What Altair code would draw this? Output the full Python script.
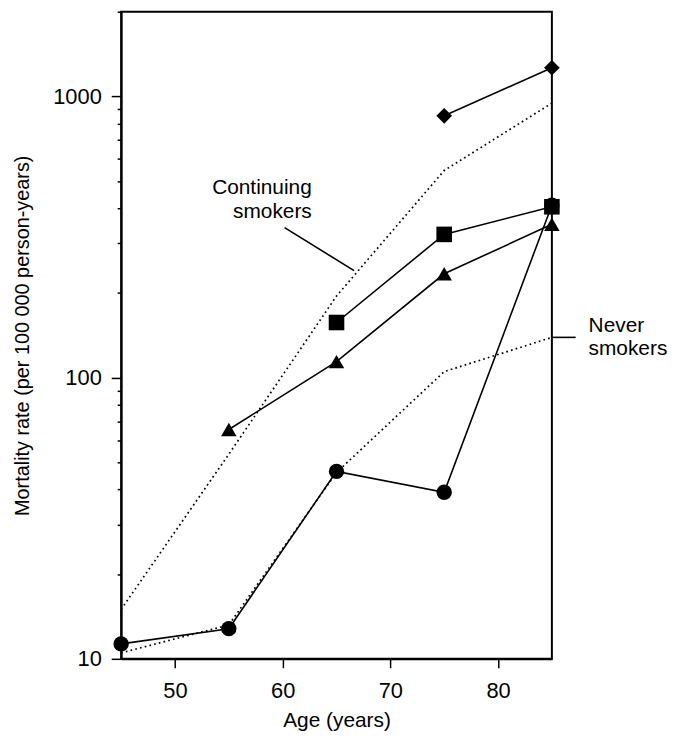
import altair as alt
import pandas as pd

FONT = "Liberation Sans"

ages = [45, 55, 65, 75, 85]

# Dotted reference curves
continuing_rate = [15.0, 53.4, 195, 545, 946]
never_rate = [10.5, 13.2, 46, 105, 139]

# Marked series
circle_age = [45, 55, 65, 75, 85]
circle_rate = [11.3, 12.8, 46.4, 39.1, 410]
triangle_age = [55, 65, 75, 85]
triangle_rate = [65.4, 114, 234, 351]
square_age = [65, 75, 85]
square_rate = [157, 323, 405]
diamond_age = [75, 85]
diamond_rate = [853, 1264]

# Annotation leader lines
leader_group = ["cont", "cont", "never", "never"]
leader_age = [60.18, 66.63, 85, 87.21]
leader_rate = [341.6, 240, 139, 139]

# Annotation texts
cont_text = ["Continuing", "smokers"]
cont_text_age = [62.7, 62.7]
cont_text_rate = [450.2, 370.4]
never_text = ["Never", "smokers"]
never_text_age = [88.41, 88.41]
never_text_rate = [145.2, 120.5]

y_major = [10, 100, 1000]
y_minor = [20, 30, 40, 50, 60, 70, 80, 90,
           200, 300, 400, 500, 600, 700, 800, 900, 2000]
x_ticks = [50, 60, 70, 80]

dotted_df = pd.DataFrame({
    "age": ages + ages,
    "rate": continuing_rate + never_rate,
    "group": ["Continuing smokers"] * 5 + ["Never smokers"] * 5,
})

series_df = pd.DataFrame({
    "age": circle_age + triangle_age + square_age + diamond_age,
    "rate": circle_rate + triangle_rate + square_rate + diamond_rate,
    "series": ["circle"] * len(circle_age) + ["triangle"] * len(triangle_age)
    + ["square"] * len(square_age) + ["diamond"] * len(diamond_age),
})

leader_df = pd.DataFrame({"age": leader_age, "rate": leader_rate, "group": leader_group})
cont_df = pd.DataFrame({"age": cont_text_age, "rate": cont_text_rate, "text": cont_text})
never_df = pd.DataFrame({"age": never_text_age, "rate": never_text_rate, "text": never_text})

xscale = alt.Scale(domain=[45, 85], nice=False, zero=False)
yscale = alt.Scale(type="log", domain=[10, 2000], nice=False)

xaxis = alt.Axis(
    values=x_ticks, tickSize=9, tickWidth=1.5, tickColor="black",
    labelPadding=13, labelFontSize=22, labelFont=FONT, labelColor="black",
    title="Age (years)", titleFontSize=21, titleFont=FONT, titleFontWeight="normal",
    titleColor="black", titlePadding=8, grid=False, domainColor="black", domainWidth=2,
)

major_axis = alt.Axis(
    values=y_major, tickSize=10, tickWidth=1.5, tickColor="black",
    labelPadding=10, labelFontSize=22, labelFont=FONT, labelColor="black", format="d",
    title="Mortality rate (per 100 000 person-years)", titleFontSize=20, titleFont=FONT,
    titleFontWeight="normal", titleColor="black", titlePadding=20,
    grid=False, domainColor="black", domainWidth=2, orient="left",
)

minor_axis = alt.Axis(
    values=y_minor, tickSize=4, tickWidth=1.5, tickColor="black",
    labels=False, title=None, domain=False, grid=False, orient="left",
)

X = alt.X("age:Q", scale=xscale, axis=xaxis)

dotted = alt.Chart(dotted_df).mark_line(
    color="black", strokeWidth=1.7, strokeDash=[1.7, 3.2]
).encode(
    x=X,
    y=alt.Y("rate:Q", scale=yscale, axis=major_axis),
    detail="group:N",
)

solid = alt.Chart(series_df).mark_line(color="black", strokeWidth=1.6).encode(
    x=X,
    y=alt.Y("rate:Q", scale=yscale, axis=minor_axis),
    detail="series:N",
)

points = alt.Chart(series_df).mark_point(filled=True, color="black", opacity=1).encode(
    x=X,
    y=alt.Y("rate:Q", scale=yscale, axis=None),
    shape=alt.Shape("series:N", scale=alt.Scale(
        domain=["circle", "triangle", "square", "diamond"],
        range=["circle", "triangle-up", "square", "diamond"]), legend=None),
    size=alt.Size("series:N", scale=alt.Scale(
        domain=["circle", "triangle", "square", "diamond"],
        range=[240, 250, 160, 225]), legend=None),
)

leaders = alt.Chart(leader_df).mark_line(color="black", strokeWidth=1.6).encode(
    x=X,
    y=alt.Y("rate:Q", scale=yscale, axis=None),
    detail="group:N",
)

cont_label = alt.Chart(cont_df).mark_text(
    align="right", baseline="alphabetic", font=FONT, fontSize=21, color="black"
).encode(
    x=X, y=alt.Y("rate:Q", scale=yscale, axis=None), text="text:N",
)

never_label = alt.Chart(never_df).mark_text(
    align="left", baseline="alphabetic", font=FONT, fontSize=21, color="black"
).encode(
    x=X, y=alt.Y("rate:Q", scale=yscale, axis=None), text="text:N",
)

chart = alt.layer(
    dotted, solid, points, leaders, cont_label, never_label
).resolve_axis(y="independent").properties(
    width=434, height=652,
    padding={"left": 5, "top": 0, "right": 0, "bottom": 0},
).configure_view(stroke="black", strokeWidth=2)

chart.save("out.html", embed_options={"renderer": "svg", "actions": False})
